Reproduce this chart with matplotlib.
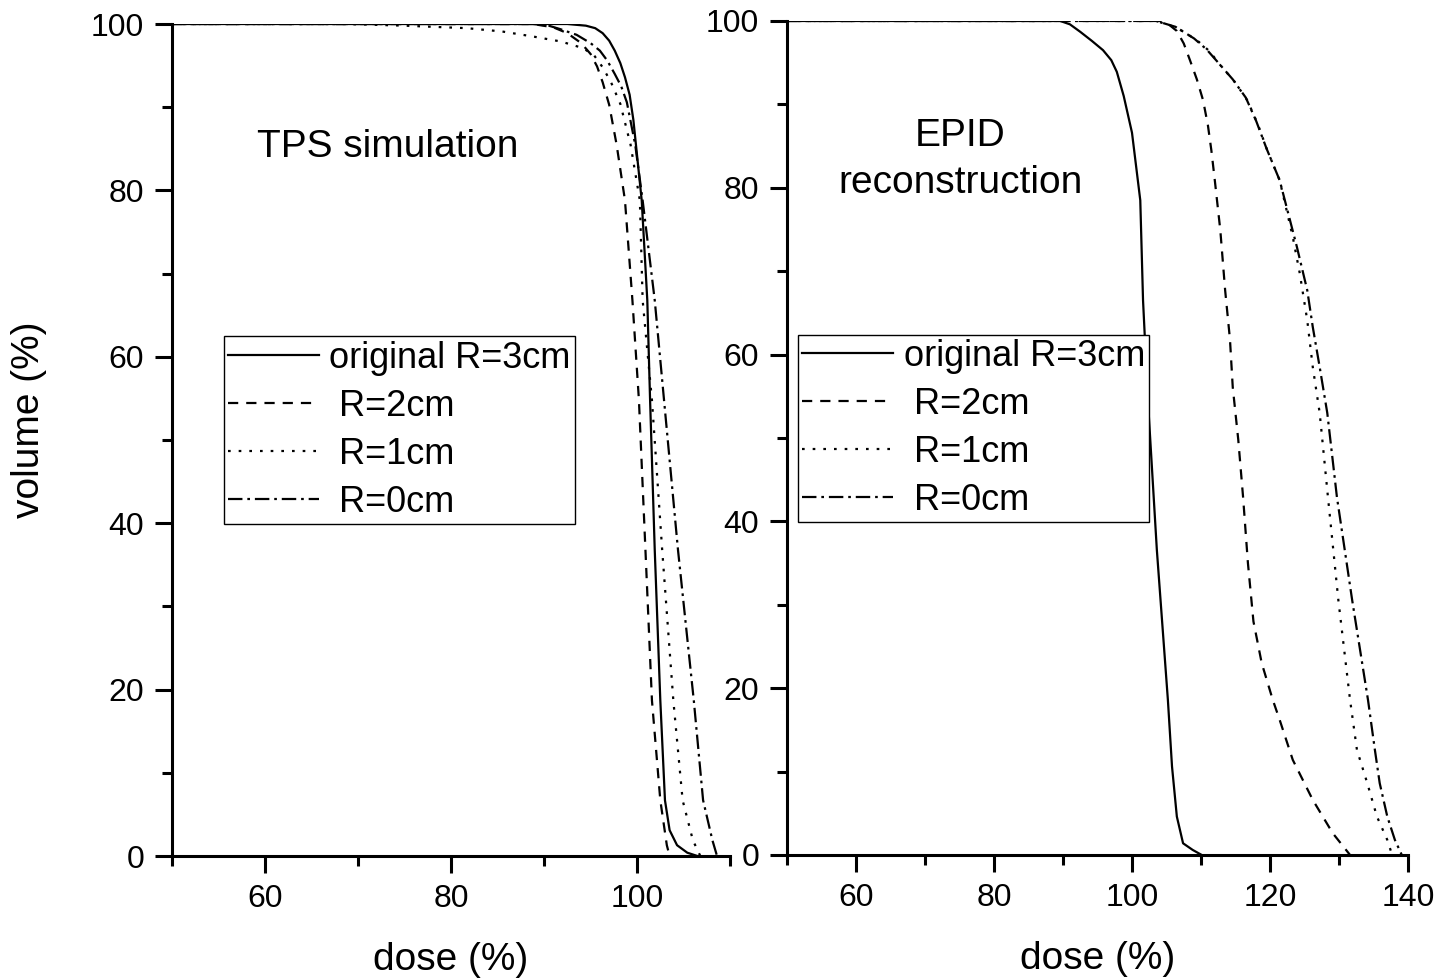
import numpy as np
import matplotlib
matplotlib.use('Agg')
import matplotlib.pyplot as plt
from matplotlib.ticker import MultipleLocator

plt.rcParams['font.family'] = ['Liberation Sans', 'DejaVu Sans']

# ---- data: dose (%) vs volume (%) ----
labels = ['original R=3cm', ' R=2cm', ' R=1cm', ' R=0cm']

# TPS simulation (left panel)
tps_r3_dose = [50, 92.5, 94.5, 95.5, 96.3, 97.0, 97.6, 98.2, 98.7, 99.2, 99.6, 100.5, 101.1, 101.4, 101.9,
               102.5, 103.0, 103.5, 104.3, 105.4, 106.5]
tps_r3_vol = [100, 100, 99.8, 99.5, 98.9, 98.0, 96.8, 95.3, 93.6, 91.5, 88.5, 78.8, 66.8, 54.8, 36.8,
              18.7, 6.7, 3.1, 1.3, 0.4, 0]
tps_r2_dose = [50, 88.8, 91.0, 92.5, 94.0, 95.0, 95.7, 96.3, 97.0, 97.8, 98.7, 99.5, 100.2, 100.9, 101.6,
               102.5, 103.2, 103.5]
tps_r2_vol = [100, 100, 99.6, 98.9, 97.7, 96.4, 94.9, 93.0, 90.3, 85.5, 78.8, 66.8, 54.8, 36.8, 18.7,
              6.7, 1.3, 0]
tps_r1_dose = [50, 68.8, 75.0, 81.7, 85.5, 88.8, 91.8, 94.2, 95.4, 96.3, 97.2, 98.2, 99.3, 100.3, 100.6,
               101.6, 102.7, 103.9, 104.9, 106.0, 106.8]
tps_r1_vol = [100, 100, 99.8, 99.5, 99.1, 98.5, 97.9, 97.1, 96.2, 94.8, 93.0, 90.4, 85.5, 78.8, 66.8,
              54.8, 36.8, 18.7, 6.7, 1.9, 0]
tps_r0_dose = [50, 88.8, 90.5, 91.7, 93.5, 95.0, 96.0, 96.8, 97.6, 98.3, 98.9, 99.8, 100.6, 101.9, 102.9,
               104.4, 106.1, 107.1, 108.1, 108.6]
tps_r0_vol = [100, 100, 99.8, 99.4, 98.7, 97.7, 96.8, 95.6, 94.0, 92.5, 90.6, 85.5, 78.8, 66.8, 54.8,
              36.8, 18.7, 6.7, 1.9, 0]

# EPID reconstruction (right panel)
epid_r3_dose = [50, 89.6, 91.0, 92.5, 94.2, 95.8, 97.0, 97.8, 98.8, 100.0, 101.2, 101.6, 102.3, 103.6, 105.2,
                105.8, 106.5, 107.4, 108.8, 110.1]
epid_r3_vol = [100, 100, 99.6, 98.7, 97.6, 96.5, 95.3, 93.9, 91.0, 86.6, 78.5, 66.5, 54.6, 36.6, 18.6,
               10.6, 4.6, 1.4, 0.6, 0]
epid_r2_dose = [50, 104.0, 105.3, 106.5, 107.5, 108.4, 109.4, 110.3, 111.0, 111.5, 112.0, 112.8, 113.5, 114.2,
                114.6, 115.4, 116.1, 116.8, 117.6, 118.8, 120.4, 121.4, 123.3, 126.2, 129.1, 131.6]
epid_r2_vol = [100, 100, 99.6, 98.8, 97.3, 95.3, 93.0, 90.5, 87.5, 84.5, 80.9, 74.9, 67.7, 61.8,
               56.1, 49.8, 42.9, 35.0, 28.0, 23.0, 18.6, 16.2, 11.4, 6.6, 2.6, 0]
epid_r1_dose = [50, 103.5, 106.5, 109.4, 111.2, 112.8, 114.8, 116.7, 118.2, 119.6, 121.4, 123.3, 124.3, 125.4,
                126.2, 127.2, 128.4, 129.9, 131.6, 132.6, 134.1, 135.5, 137.0, 137.7]
epid_r1_vol = [100, 100, 99.2, 97.7, 96.4, 94.7, 92.8, 90.5, 87.7, 84.5, 80.9, 74.1, 69.8, 64.1,
               58.5, 53.0, 42.9, 30.6, 18.6, 12.6, 8.6, 4.6, 1.8, 0]
epid_r0_dose = [50, 103.5, 106.3, 109.0, 110.8, 112.5, 114.6, 116.5, 118.0, 119.5, 121.4, 123.9, 125.4, 126.2,
                127.2, 128.3, 129.7, 131.9, 134.2, 135.2, 135.9, 137.0, 138.1, 139.1]
epid_r0_vol = [100, 100, 99.3, 97.9, 96.6, 95.0, 93.0, 90.8, 88.0, 84.7, 80.9, 72.9, 67.7, 63.3,
               58.5, 53.0, 42.9, 30.6, 18.6, 12.6, 8.6, 4.6, 1.8, 0]

styles = ['-', (0, (4.6, 3.6)), (0, (1.2, 3.6)), (0, (6.5, 2.2, 1.2, 2.2))]

fig = plt.figure(figsize=(14.52, 9.8), dpi=100)
ax1 = fig.add_axes([0.1185, 0.1265, 0.3843, 0.849])
ax2 = fig.add_axes([0.542, 0.1276, 0.4277, 0.851])

tps = [(tps_r3_dose, tps_r3_vol), (tps_r2_dose, tps_r2_vol), (tps_r1_dose, tps_r1_vol), (tps_r0_dose, tps_r0_vol)]
epid = [(epid_r3_dose, epid_r3_vol), (epid_r2_dose, epid_r2_vol), (epid_r1_dose, epid_r1_vol), (epid_r0_dose, epid_r0_vol)]

for ax, curves, xmax, xmajor in [(ax1, tps, 110, [60, 80, 100]), (ax2, epid, 140, [60, 80, 100, 120, 140])]:
    for (d, v), ls, lab in zip(curves, styles, labels):
        ax.plot(d, v, color='black', lw=1.6, linestyle=ls, label=lab)
    ax.set_xlim(50, xmax)
    ax.set_ylim(0, 100)
    ax.set_xticks(xmajor)
    ax.xaxis.set_minor_locator(MultipleLocator(10))
    ax.set_yticks([0, 20, 40, 60, 80, 100])
    ax.yaxis.set_minor_locator(MultipleLocator(10))
    ax.spines['top'].set_visible(False)
    ax.spines['right'].set_visible(False)
    for s in ['left', 'bottom']:
        ax.spines[s].set_linewidth(2.2)
    ax.tick_params(which='major', length=12, width=2.2, labelsize=23, pad=8)
    ax.tick_params(which='minor', length=7, width=2.2)
    ax.set_xlabel('dose (%)', fontsize=28, labelpad=20)

ax1.set_ylabel('volume (%)', fontsize=28)
ax1.yaxis.set_label_coords(-0.225, 0.524)

ax1.text(0.387, 0.852, 'TPS simulation', transform=ax1.transAxes, fontsize=28, ha='center', va='center')
ax2.text(0.279, 0.834, 'EPID\nreconstruction', transform=ax2.transAxes, fontsize=28, ha='center', va='center',
         linespacing=1.4)

legkw = dict(fontsize=26, frameon=True, fancybox=False, edgecolor='black', framealpha=1,
             handlelength=2.5, handletextpad=0.3, labelspacing=0.36, borderpad=0.12, borderaxespad=0)
leg1 = ax1.legend(loc='lower left', bbox_to_anchor=(0.093, 0.399), **legkw)
leg2 = ax2.legend(loc='lower left', bbox_to_anchor=(0.018, 0.399), **legkw)
for leg in (leg1, leg2):
    leg.get_frame().set_linewidth(1.0)

fig.savefig('out.png', dpi=100)
